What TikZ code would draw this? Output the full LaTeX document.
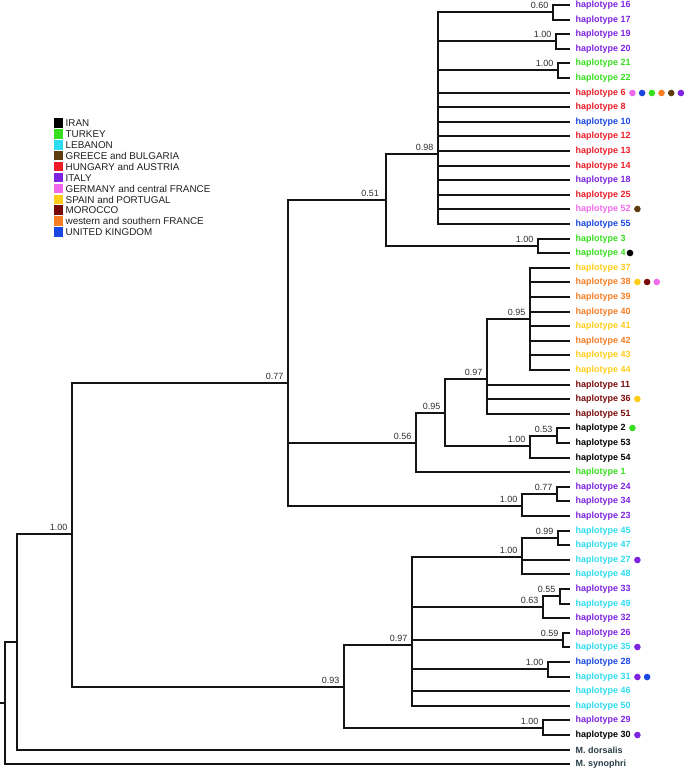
\documentclass[tikz,border=0pt]{standalone}
\usepackage{fontspec}
\setmainfont{Liberation Sans}
\definecolor{iran}{RGB}{0,0,0}
\definecolor{turkey}{RGB}{55,222,30}
\definecolor{lebanon}{RGB}{45,220,238}
\definecolor{greece}{RGB}{95,60,15}
\definecolor{hungary}{RGB}{236,28,40}
\definecolor{italy}{RGB}{125,35,225}
\definecolor{germany}{RGB}{240,105,235}
\definecolor{spain}{RGB}{255,205,25}
\definecolor{morocco}{RGB}{120,10,10}
\definecolor{wfrance}{RGB}{245,125,35}
\definecolor{uk}{RGB}{25,70,225}
\definecolor{outg}{RGB}{40,60,70}
\definecolor{suppgray}{RGB}{45,45,45}
\newcommand{\spotmarks}[3]{%
  \foreach \cc [count=\k from 0] in {#3} {
    \fill[\cc] ([xshift={(#2+9.7*\k)*1bp}]L#1.east) circle[radius=3.3bp];
  }}
\begin{document}
\begin{tikzpicture}[x=1bp,y=-1bp,
  branch/.style={line width=2bp,line join=miter,color=black!92},
  tiplbl/.style={font=\bfseries\fontsize{9}{10}\selectfont,inner sep=0,anchor=west},
  supp/.style={font=\fontsize{9}{10}\selectfont,text=suppgray,inner sep=0,anchor=south east},
  legsq/.style={minimum size=9.5bp,inner sep=0,draw=none},
  legtxt/.style={font=\fontsize{9.9}{11}\selectfont,text=black!88,inner sep=0,anchor=west}]
\useasboundingbox (0,0) rectangle (685,772);

% legend
\foreach \c/\t [count=\i from 0] in {iran/IRAN,turkey/TURKEY,lebanon/LEBANON,greece/GREECE and BULGARIA,hungary/HUNGARY and AUSTRIA,italy/ITALY,germany/GERMANY and central FRANCE,spain/SPAIN and PORTUGAL,morocco/MOROCCO,wfrance/western and southern FRANCE,uk/UNITED KINGDOM} {
  \node[legsq,fill=\c] (sq\i) at (58.3,{123+10.9*\i}) {};
  \node[legtxt] (lg\i) at (65.5,{123.3+10.9*\i}) {\t};
}

% tips
\foreach \r/\c/\t in {
 1/italy/haplotype 16, 2/italy/haplotype 17, 3/italy/haplotype 19, 4/italy/haplotype 20,
 5/turkey/haplotype 21, 6/turkey/haplotype 22, 7/hungary/haplotype 6, 8/hungary/haplotype 8,
 9/uk/haplotype 10, 10/hungary/haplotype 12, 11/hungary/haplotype 13, 12/hungary/haplotype 14,
 13/italy/haplotype 18, 14/hungary/haplotype 25, 15/germany/haplotype 52, 16/uk/haplotype 55,
 17/turkey/haplotype 3, 18/turkey/haplotype 4, 19/spain/haplotype 37, 20/wfrance/haplotype 38,
 21/wfrance/haplotype 39, 22/wfrance/haplotype 40, 23/spain/haplotype 41, 24/wfrance/haplotype 42,
 25/spain/haplotype 43, 26/spain/haplotype 44, 27/morocco/haplotype 11, 28/morocco/haplotype 36,
 29/morocco/haplotype 51, 30/iran/haplotype 2, 31/iran/haplotype 53, 32/iran/haplotype 54,
 33/turkey/haplotype 1, 34/italy/haplotype 24, 35/italy/haplotype 34, 36/italy/haplotype 23,
 37/lebanon/haplotype 45, 38/lebanon/haplotype 47, 39/lebanon/haplotype 27, 40/lebanon/haplotype 48,
 41/italy/haplotype 33, 42/lebanon/haplotype 49, 43/italy/haplotype 32, 44/italy/haplotype 26,
 45/lebanon/haplotype 35, 46/uk/haplotype 28, 47/lebanon/haplotype 31, 48/lebanon/haplotype 46,
 49/lebanon/haplotype 50, 50/italy/haplotype 29, 51/iran/haplotype 30, 52/outg/M. dorsalis,
 53/outg/M. synophri} {
  \coordinate (T\r) at (570,{round(5+(\r-1)*14.6)});
  \node[tiplbl,text=\c] (L\r) at (575.5,{round(5+(\r-1)*14.6)}) {\t};
}

% internal nodes
\coordinate (Rin) at (0,703);
\coordinate (R) at (5,703);
\coordinate (N17) at (17,642);
\coordinate (N72) at (72,534);
\coordinate (N77) at (288,383);
\coordinate (N93) at (344,687);
\coordinate (N51) at (386,200);
\coordinate (N56) at (416,443);
\coordinate (Nc) at (522,506);
\coordinate (N98) at (438,154);
\coordinate (N34) at (538,246);
\coordinate (Na) at (553,12);
\coordinate (Nb) at (556,41);
\coordinate (Nd) at (558,70);
\coordinate (N95a) at (445,413);
\coordinate (N97a) at (487,379);
\coordinate (N95b) at (530,319);
\coordinate (N100b) at (530,446);
\coordinate (N053) at (557,436);
\coordinate (N077) at (557,494);
\coordinate (N97b) at (412,645);
\coordinate (N2930) at (543,728);
\coordinate (N100d) at (522,557);
\coordinate (N099) at (558,538);
\coordinate (N063) at (543,607);
\coordinate (N055) at (560,596);
\coordinate (N059) at (563,640);
\coordinate (N2831) at (548,669);

% branches
\draw[branch] (Rin) -- (R);
\foreach \p/\k in {R/N17,R/T53,N17/N72,N17/T52,N72/N77,N72/N93,
  N77/N51,N77/N56,N77/Nc,N51/N98,N51/N34,
  N98/Na,N98/Nb,N98/Nd,N98/T7,N98/T8,N98/T9,N98/T10,N98/T11,N98/T12,N98/T13,N98/T14,N98/T15,N98/T16,
  Na/T1,Na/T2,Nb/T3,Nb/T4,Nd/T5,Nd/T6,N34/T17,N34/T18,
  N56/N95a,N56/T33,N95a/N97a,N95a/N100b,
  N97a/N95b,N97a/T27,N97a/T28,N97a/T29,
  N95b/T19,N95b/T20,N95b/T21,N95b/T22,N95b/T23,N95b/T24,N95b/T25,N95b/T26,
  N100b/N053,N100b/T32,N053/T30,N053/T31,
  Nc/N077,Nc/T36,N077/T34,N077/T35,
  N93/N97b,N93/N2930,
  N97b/N100d,N97b/N063,N97b/N059,N97b/N2831,N97b/T48,N97b/T49,
  N100d/N099,N100d/T39,N100d/T40,N099/T37,N099/T38,
  N063/N055,N063/T43,N055/T41,N055/T42,
  N059/T44,N059/T45,N2831/T46,N2831/T47,N2930/T50,N2930/T51} {
  \draw[branch] (\p) |- (\k);
}

% support values
\foreach \n/\v in {Na/0.60,Nb/1.00,Nd/1.00,N98/0.98,N34/1.00,N77/0.77,N72/1.00,
  N97a/0.97,N95b/0.95,N95a/0.95,N56/0.56,N100b/1.00,N053/0.53,Nc/1.00,N077/0.77,
  N93/0.93,N97b/0.97,N100d/1.00,N099/0.99,N063/0.63,N055/0.55,N059/0.59,N2831/1.00,N2930/1.00} {
  \node[supp] (s\n) at ([xshift=-4.5bp,yshift=2.9bp]\n) {\v};
}
\node[supp] (sN51) at ([xshift=-7bp,yshift=2.9bp]N51) {0.51};

% sample-origin dots
\spotmarks{7}{6.7}{germany,uk,turkey,wfrance,greece,italy}
\spotmarks{15}{6.7}{greece}
\spotmarks{18}{4.3}{iran}
\spotmarks{20}{6.7}{spain,morocco,germany}
\spotmarks{28}{6.7}{spain}
\spotmarks{30}{6.7}{turkey}
\spotmarks{39}{6.7}{italy}
\spotmarks{45}{6.7}{italy}
\spotmarks{47}{6.7}{italy,uk}
\spotmarks{51}{6.7}{italy}
\end{tikzpicture}
\end{document}
